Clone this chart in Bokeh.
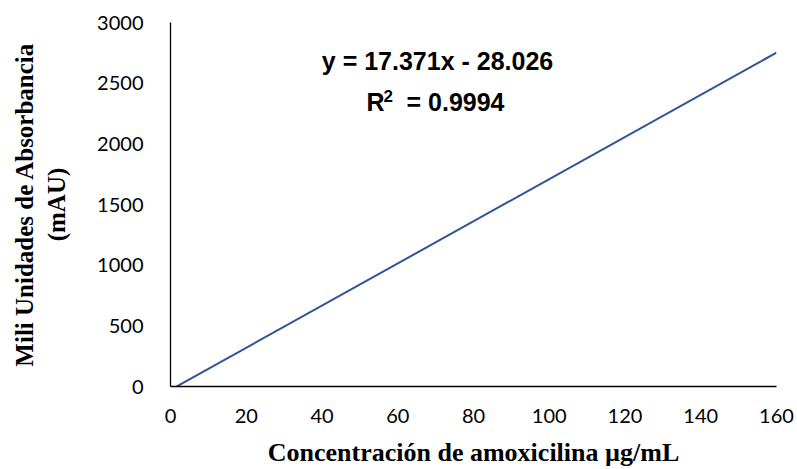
from bokeh.plotting import figure
from bokeh.models import Range1d, Label, FixedTicker
from bokeh.embed import file_html
from bokeh.resources import INLINE

# Data: calibration trendline y = 17.371x - 28.026 (R^2 = 0.9994)
x_line = [0, 160]
slope = 17.371
intercept = -28.026
y_line = [slope * x + intercept for x in x_line]

x_ticks = [0, 20, 40, 60, 80, 100, 120, 140, 160]
y_ticks = [0, 500, 1000, 1500, 2000, 2500, 3000]

x_title = "Concentración de amoxicilina µg/mL"
y_title = "Mili Unidades de Absorbancia\n(mAU)"
eq_text = "y = 17.371x - 28.026"
r2_text = "= 0.9994"

p = figure(width=797, height=469, output_backend="svg", toolbar_location=None,
           x_range=Range1d(0, 160), y_range=Range1d(0, 3000),
           min_border_left=170, min_border_right=21, min_border_top=22, min_border_bottom=83)
p.outline_line_color = None
p.grid.visible = False
p.background_fill_color = "white"
p.border_fill_color = "white"

p.line(x_line, y_line, line_color="#2F5597", line_width=2)

for ax in (p.xaxis, p.yaxis):
    ax.axis_line_color = "#000000"
    ax.axis_line_width = 1.3
    ax.major_tick_line_color = None
    ax.minor_tick_line_color = None
    ax.major_label_text_font = "Lato"
    ax.major_label_text_font_size = "20px"
    ax.major_label_text_color = "#000000"
    ax.axis_label_text_font = "Liberation Serif"
    ax.axis_label_text_font_style = "bold"
    ax.axis_label_text_color = "#000000"

p.xaxis.axis_label_text_font_size = "26px"
p.yaxis.axis_label_text_font_size = "25px"
p.xaxis.ticker = FixedTicker(ticks=x_ticks)
p.yaxis.ticker = FixedTicker(ticks=y_ticks)
p.xaxis.major_label_standoff = 16
p.yaxis.major_label_standoff = 21
p.xaxis.axis_label = x_title
p.xaxis.axis_label_standoff = 12
p.yaxis.axis_label = y_title
p.yaxis.axis_label_standoff = 24

common = dict(x_units="screen", y_units="screen", text_font="Liberation Sans",
              text_font_style="bold", text_color="#000000", text_baseline="middle")
p.add_layout(Label(x=267, y=326, text=eq_text, text_font_size="25px",
                   text_align="center", **common))
p.add_layout(Label(x=196, y=285, text="R", text_font_size="25px",
                   text_align="left", **common))
p.add_layout(Label(x=213, y=291, text="2", text_font_size="17px",
                   text_align="left", **common))
p.add_layout(Label(x=236, y=285, text=r2_text, text_font_size="25px",
                   text_align="left", **common))

open("out.html", "w").write(file_html(p, INLINE))
